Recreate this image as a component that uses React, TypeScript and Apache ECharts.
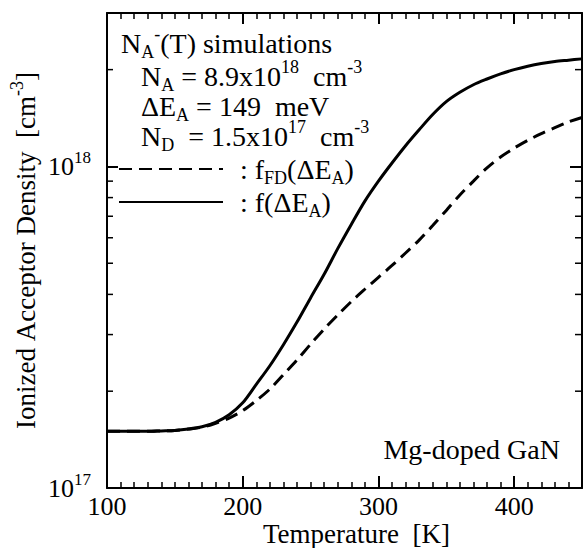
import React, { useEffect, useRef } from 'react';
import * as echarts from 'echarts';

const FONT = '"Liberation Serif", "Times New Roman", Times, serif';

// Temperature grid [K]
const temperatures = [100, 110, 120, 130, 140, 150, 160, 170, 180, 190, 200, 210, 220, 230, 240, 250, 260, 270, 280, 290, 300, 310, 320, 330, 340, 350, 360, 370, 380, 390, 400, 410, 420, 430, 440, 450];
// Ionized acceptor density, in units of 1e17 cm^-3
const fdValues = [1.50, 1.50, 1.50, 1.50, 1.505, 1.51, 1.525, 1.545, 1.59, 1.65, 1.74, 1.87, 2.03, 2.25, 2.50, 2.80, 3.12, 3.45, 3.80, 4.15, 4.52, 4.92, 5.38, 5.90, 6.55, 7.30, 8.15, 9.00, 9.90, 10.7, 11.4, 12.05, 12.65, 13.2, 13.75, 14.2];
const fValues = [1.50, 1.50, 1.50, 1.50, 1.505, 1.51, 1.525, 1.55, 1.60, 1.69, 1.84, 2.10, 2.40, 2.79, 3.28, 3.90, 4.62, 5.55, 6.60, 7.80, 9.00, 10.25, 11.6, 13.0, 14.5, 15.9, 17.0, 17.95, 18.7, 19.4, 20.0, 20.5, 20.9, 21.2, 21.4, 21.6];
const UNIT = 1e17;

const xTickLabels = [100, 200, 300, 400];
const xMin = 100;
const xMax = 450;
const yMin = 1e17;
const yMax = 3e18;
const logMinorTicks = [2e17, 3e17, 4e17, 5e17, 6e17, 7e17, 8e17, 9e17, 2e18];

const seriesNames = ['fFD', 'f'];

const nb = (s: string) => s.replace(/ /g, '\u00a0');

const annotationLines = [
  '{n|N}{sub|A}{sup|-}{n|(T) simulations}',
  '{n|N}{sub|A}{n| = 8.9x10}{sup|18}{n|  cm}{sup|-3}',
  '{n|ΔE}{sub|A}{n| = 149  meV}',
  '{n|N}{sub|D}{n|  = 1.5x10}{sup|17}{n|  cm}{sup|-3}',
];
const sampleLabel = 'Mg-doped GaN';
const legendLabels: Record<string, string> = {
  fFD: '{c|:}{n| f}{sub|FD}{n|(ΔE}{sub|A}{n|)}',
  f: '{c|:}{n| f(ΔE}{sub|A}{n|)}',
};

const richBase = (size: number, lh: number, sub: number) => ({
  n: { fontSize: size, lineHeight: lh, fontFamily: FONT, color: '#000' },
  c: { fontSize: size, lineHeight: lh, fontFamily: FONT, color: '#000', padding: [0, 0, 0, 12] },
  sub: { fontSize: sub, lineHeight: sub, fontFamily: FONT, color: '#000', verticalAlign: 'bottom' },
  sup: { fontSize: sub, lineHeight: sub, fontFamily: FONT, color: '#000', verticalAlign: 'top' },
});

export default function App() {
  const ref = useRef<HTMLDivElement>(null);
  useEffect(() => {
    if (!ref.current) return;
    const chart = echarts.init(ref.current, undefined, { renderer: 'svg' });
    const annRich = richBase(28, 36, 18);
    const annX = [121, 141, 141, 141];
    const annY = [43, 76, 106, 136];

    const axisCommon = {
      axisLine: { show: true, onZero: false, lineStyle: { color: '#000', width: 2 } },
      splitLine: { show: false },
    };

    const option: any = {
      animation: false,
      backgroundColor: '#fff',
      textStyle: { fontFamily: FONT, color: '#000' },
      grid: { left: 107, right: 2, top: 13, bottom: 60, containLabel: false, outerBoundsMode: 'none' },
      xAxis: [
        {
          type: 'value', min: xMin, max: xMax, interval: 100, position: 'bottom',
          ...axisCommon,
          axisTick: { show: true, inside: true, length: 12, lineStyle: { color: '#000', width: 2 } },
          minorTick: { show: true, splitNumber: 10, length: 6, lineStyle: { color: '#000', width: 1.5 } },
          axisLabel: {
            show: true, margin: 5, fontSize: 26, lineHeight: 26, fontFamily: FONT, color: '#000',
            formatter: (v: number) => (xTickLabels.includes(v) ? String(v) : ''),
          },
          name: nb('Temperature  [K]'), nameLocation: 'middle', nameGap: 31, nameMoveOverlap: false,
          nameTextStyle: { fontSize: 27, lineHeight: 30, fontFamily: FONT, color: '#000', padding: [0, 0, 0, 24] },
        },
        {
          type: 'value', min: xMin, max: xMax, interval: 100, position: 'top',
          ...axisCommon,
          axisTick: { show: true, inside: true, length: 11, lineStyle: { color: '#000', width: 2 } },
          minorTick: { show: true, splitNumber: 10, length: 6, lineStyle: { color: '#000', width: 1.5 } },
          axisLabel: { show: false },
        },
      ],
      yAxis: [
        {
          type: 'log', logBase: 10, min: yMin, max: yMax, position: 'left',
          ...axisCommon,
          axisTick: { show: true, inside: true, length: 11, lineStyle: { color: '#000', width: 2 } },
          axisLabel: {
            show: true, margin: 16,
            formatter: (v: number) => {
              const e = Math.log10(v);
              const r = Math.round(e);
              return Math.abs(e - r) < 1e-6 ? `{b|10}{s|${r}}` : '';
            },
            rich: {
              b: { fontSize: 26, lineHeight: 34, fontFamily: FONT, color: '#000' },
              s: { fontSize: 17, lineHeight: 17, fontFamily: FONT, color: '#000', verticalAlign: 'top' },
            },
          },
          name: nb('{n|Ionized Acceptor Density  [cm}{sup|-3}{n|]}'),
          nameLocation: 'middle', nameGap: 63, nameMoveOverlap: false,
          nameTextStyle: { rich: richBase(27, 36, 18) },
        },
        {
          type: 'log', logBase: 10, min: yMin, max: yMax, position: 'right',
          ...axisCommon,
          axisTick: { show: true, inside: true, length: 12, lineStyle: { color: '#000', width: 2 } },
          axisLabel: { show: false },
        },
      ],
      legend: seriesNames.map((name, i) => ({
        data: [name],
        left: 118,
        top: [173, 206][i] - 18,
        orient: 'vertical',
        padding: 0,
        itemWidth: 104,
        itemHeight: 14,
        selectedMode: false,
        itemStyle: { opacity: 0 },
        lineStyle: { opacity: 1 },
        formatter: (n: string) => nb(legendLabels[n]),
        textStyle: { fontFamily: FONT, fontSize: 28, color: '#000', rich: richBase(28, 36, 18) },
      })),
      graphic: [
        ...annotationLines.map((t, i) => ({
          type: 'text', x: annX[i], y: annY[i], silent: true, z: 10,
          style: { text: nb(t), fill: '#000', font: `28px ${FONT}`, align: 'left', verticalAlign: 'middle', rich: annRich },
        })),
        {
          type: 'text', x: 560, y: 449, silent: true, z: 10,
          style: { text: sampleLabel, fill: '#000', font: `28px ${FONT}`, align: 'right', verticalAlign: 'middle' },
        },
      ],
      series: [
        {
          name: seriesNames[0], type: 'line', xAxisIndex: 0, yAxisIndex: 0,
          data: temperatures.map((t, i) => [t, fdValues[i] * UNIT]),
          symbol: 'none', smooth: 0.3, z: 3,
          lineStyle: { color: '#000', width: 3, type: [13, 7] },
          itemStyle: { color: '#000' },
        },
        {
          name: seriesNames[1], type: 'line', xAxisIndex: 0, yAxisIndex: 0,
          data: temperatures.map((t, i) => [t, fValues[i] * UNIT]),
          symbol: 'none', smooth: 0.3, z: 4,
          lineStyle: { color: '#000', width: 3, type: 'solid' },
          itemStyle: { color: '#000' },
        },
        {
          type: 'custom', xAxisIndex: 0, yAxisIndex: 0, silent: true, z: 5,
          data: logMinorTicks.map((v) => [xMin, v]),
          renderItem: (params: any, api: any) => {
            const v = api.value(1);
            const l = api.coord([xMin, v]);
            const r = api.coord([xMax, v]);
            return {
              type: 'group',
              children: [
                { type: 'line', shape: { x1: l[0], y1: l[1], x2: l[0] + 6, y2: l[1] }, style: { stroke: '#000', lineWidth: 1.5 } },
                { type: 'line', shape: { x1: r[0] - 7, y1: r[1], x2: r[0], y2: r[1] }, style: { stroke: '#000', lineWidth: 1.5 } },
              ],
            };
          },
        },
      ],
    };
    chart.setOption(option);
    return () => chart.dispose();
  }, []);
  return <div ref={ref} style={{ position: 'absolute', left: 0, top: 0, width: 584, height: 548, background: '#fff' }} />;
}
